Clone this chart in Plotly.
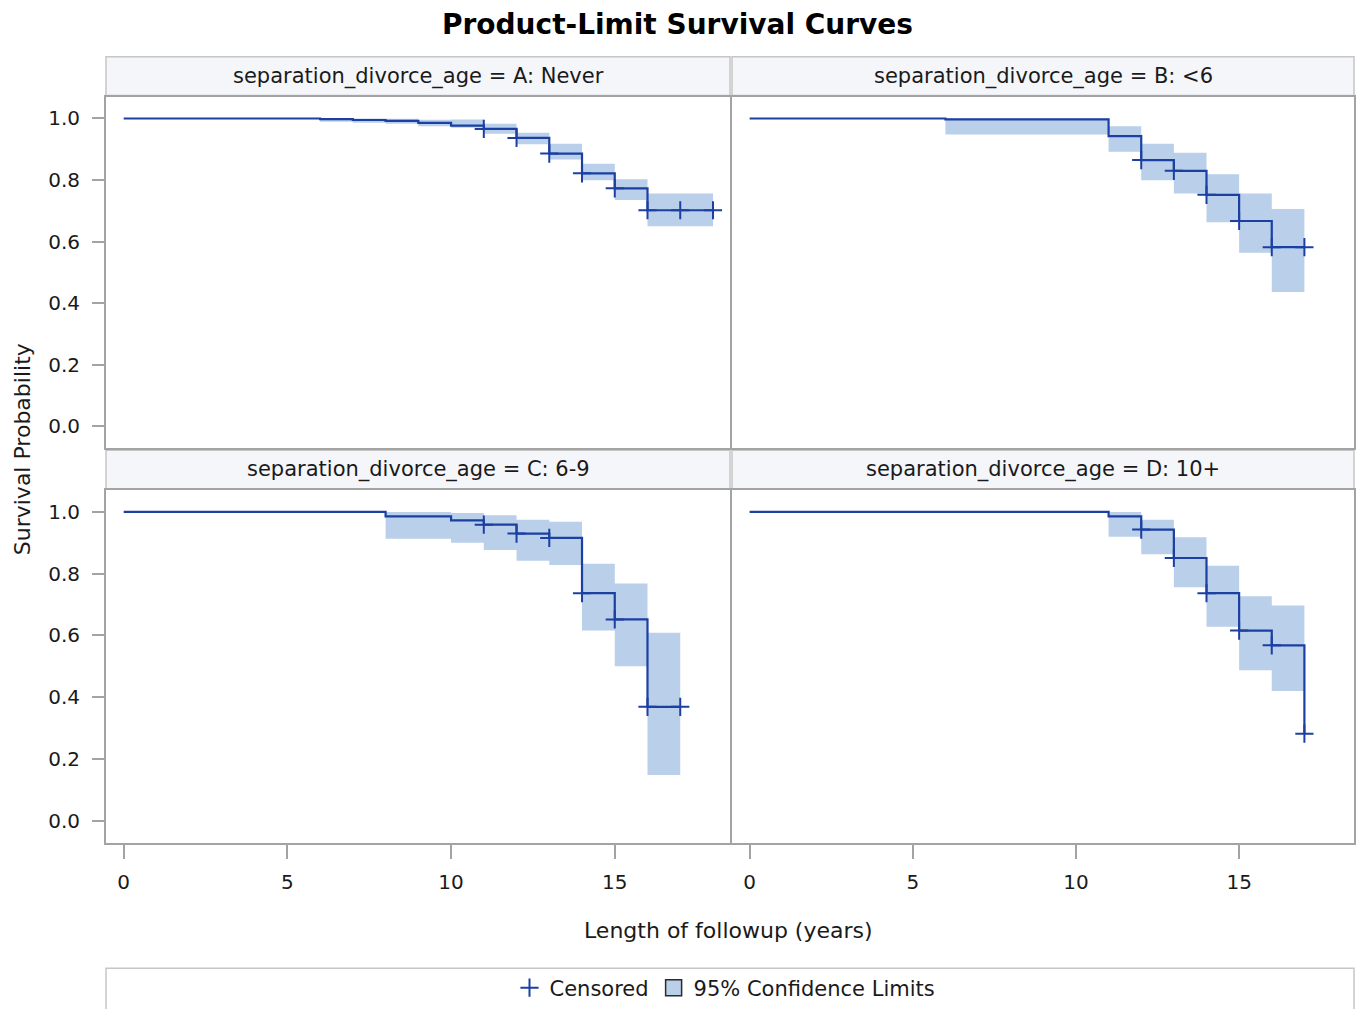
import plotly.graph_objects as go

W, H = 1363, 1009

# ---------------- data ----------------
groups = ["A: Never", "B: <6", "C: 6-9", "D: 10+"]
strip_prefix = "separation_divorce_age = "
x_ticks = [0, 5, 10, 15]
y_ticks = [0.0, 0.2, 0.4, 0.6, 0.8, 1.0]

# Panel A: Never
time_A = [0, 6, 7, 8, 9, 10, 11, 12, 13, 14, 15, 16, 18]
surv_A = [1.0, 0.998, 0.995, 0.992, 0.986, 0.977, 0.966, 0.937, 0.886, 0.822, 0.773, 0.702, 0.702]
ci_time_A = [6, 7, 8, 9, 10, 11, 12, 13, 14, 15, 16, 18]
ci_low_A = [0.989, 0.986, 0.983, 0.975, 0.970, 0.950, 0.916, 0.867, 0.799, 0.735, 0.650, 0.650]
ci_up_A = [1.0, 1.0, 0.999, 0.996, 0.997, 0.983, 0.954, 0.918, 0.853, 0.803, 0.756, 0.756]
cens_time_A = [11, 12, 13, 14, 15, 16, 17, 18]
cens_surv_A = [0.966, 0.937, 0.886, 0.822, 0.773, 0.702, 0.702, 0.702]

# Panel B: <6
time_B = [0, 6, 11, 12, 13, 14, 15, 16, 17]
surv_B = [1.0, 0.997, 0.943, 0.865, 0.830, 0.752, 0.667, 0.582, 0.582]
ci_time_B = [6, 11, 12, 13, 14, 15, 16, 17]
ci_low_B = [0.948, 0.892, 0.799, 0.756, 0.663, 0.564, 0.436, 0.436]
ci_up_B = [1.0, 0.975, 0.918, 0.889, 0.819, 0.756, 0.706, 0.706]
cens_time_B = [12, 13, 14, 15, 16, 17]
cens_surv_B = [0.865, 0.830, 0.752, 0.667, 0.582, 0.582]

# Panel C: 6-9
time_C = [0, 8, 10, 11, 12, 13, 14, 15, 16, 17]
surv_C = [1.0, 0.986, 0.973, 0.959, 0.930, 0.916, 0.737, 0.652, 0.369, 0.369]
ci_time_C = [8, 10, 11, 12, 13, 14, 15, 16, 17]
ci_low_C = [0.913, 0.900, 0.877, 0.842, 0.828, 0.616, 0.500, 0.148, 0.148]
ci_up_C = [1.0, 0.997, 0.989, 0.975, 0.968, 0.832, 0.768, 0.609, 0.609]
cens_time_C = [11, 12, 13, 14, 15, 16, 17]
cens_surv_C = [0.959, 0.930, 0.916, 0.737, 0.652, 0.369, 0.369]

# Panel D: 10+
time_D = [0, 11, 12, 13, 14, 15, 16, 17]
surv_D = [1.0, 0.986, 0.943, 0.851, 0.737, 0.616, 0.568, 0.282]
ci_time_D = [11, 12, 13, 14, 15, 16, 17]
ci_low_D = [0.920, 0.863, 0.756, 0.628, 0.487, 0.420, 0.420]
ci_up_D = [1.0, 0.975, 0.918, 0.826, 0.727, 0.697, 0.697]
cens_time_D = [12, 13, 14, 15, 16, 17]
cens_surv_D = [0.943, 0.851, 0.737, 0.616, 0.568, 0.282]

panels = [
    (time_A, surv_A, ci_time_A, ci_low_A, ci_up_A, cens_time_A, cens_surv_A),
    (time_B, surv_B, ci_time_B, ci_low_B, ci_up_B, cens_time_B, cens_surv_B),
    (time_C, surv_C, ci_time_C, ci_low_C, ci_up_C, cens_time_C, cens_surv_C),
    (time_D, surv_D, ci_time_D, ci_low_D, ci_up_D, cens_time_D, cens_surv_D),
]

# ---------------- style ----------------
FONT = "DejaVu Sans"
LINE_C = "#1B40A2"
BAND_C = "#BACFE9"
BORDER_C = "#A3A3A3"
TEXT_C = "#1A1A1A"

fig = go.Figure()

for i, (t, s, ct, lo, up, cx, cy) in enumerate(panels):
    k = "" if i == 0 else str(i + 1)
    xa, ya = "x" + k, "y" + k
    fig.add_trace(go.Scatter(x=ct, y=up, mode="lines", line=dict(width=0, shape="hv"),
                             xaxis=xa, yaxis=ya, showlegend=False, hoverinfo="skip"))
    fig.add_trace(go.Scatter(x=ct, y=lo, mode="lines", line=dict(width=0, shape="hv"),
                             fill="tonexty", fillcolor=BAND_C,
                             xaxis=xa, yaxis=ya, showlegend=False, hoverinfo="skip"))
    fig.add_trace(go.Scatter(x=t, y=s, mode="lines", line=dict(color=LINE_C, width=2.2, shape="hv"),
                             xaxis=xa, yaxis=ya, showlegend=False))
    fig.add_trace(go.Scatter(x=cx, y=cy, mode="markers",
                             marker=dict(symbol="cross-thin", size=13, line=dict(color=LINE_C, width=2)),
                             xaxis=xa, yaxis=ya, name="Censored", showlegend=(i == 0)))

# legend entry for confidence band
fig.add_trace(go.Scatter(x=[None], y=[None], mode="markers", name="95% Confidence Limits",
                         marker=dict(symbol="square", size=20, color=BAND_C,
                                     line=dict(color="#2B2B2B", width=1.5)),
                         xaxis="x", yaxis="y"))

xL = [106 / W, 730 / W]
xR = [732 / W, 1354 / W]
yT = [1 - 450 / H, 1 - 97 / H]
yB = [1 - 846 / H, 1 - 492 / H]
doms = [(xL, yT), (xR, yT), (xL, yB), (xR, yB)]

xr = [-0.54, 18.52]
yr = [-0.071, 1.071]

layout = dict(
    width=W, height=H,
    margin=dict(l=0, r=0, t=0, b=0),
    paper_bgcolor="white", plot_bgcolor="white",
    font=dict(family=FONT, color=TEXT_C),
    showlegend=True,
    legend=dict(orientation="h", x=725 / W, xanchor="center", y=1 - 992 / H, yanchor="middle",
                font=dict(size=21, family=FONT, color=TEXT_C), bgcolor="rgba(0,0,0,0)",
                traceorder="normal"),
)

for i, (dx, dy) in enumerate(doms):
    k = "" if i == 0 else str(i + 1)
    bottom = i >= 2
    left = i % 2 == 0
    layout["xaxis" + k] = dict(
        domain=dx, anchor="y" + k, range=xr, showgrid=False, zeroline=False,
        showline=True, mirror=True, linecolor=BORDER_C, linewidth=2,
        tickvals=x_ticks if bottom else [], ticks="outside" if bottom else "",
        ticklen=14, tickcolor=BORDER_C, tickwidth=1.5,
        showticklabels=bottom, tickfont=dict(size=20, family=FONT, color=TEXT_C),
        ticklabelstandoff=6,
    )
    layout["yaxis" + k] = dict(
        domain=dy, anchor="x" + k, range=yr, showgrid=False, zeroline=False,
        showline=True, mirror=True, linecolor=BORDER_C, linewidth=2,
        tickvals=y_ticks if left else [], ticktext=["%.1f" % v for v in y_ticks] if left else [],
        ticks="outside" if left else "",
        ticklen=12, tickcolor=BORDER_C, tickwidth=1.5,
        showticklabels=left, tickfont=dict(size=20, family=FONT, color=TEXT_C),
        ticklabelstandoff=8,
    )

fig.update_layout(**layout)

shapes = []
annotations = []
strip_y = [(1 - 96 / H, 1 - 57 / H), (1 - 491 / H, 1 - 452 / H)]
for i, g in enumerate(groups):
    dx = doms[i][0]
    sy = strip_y[i // 2]
    shapes.append(dict(type="rect", xref="paper", yref="paper", x0=dx[0], x1=dx[1], y0=sy[0], y1=sy[1],
                       fillcolor="#F4F6FA", line=dict(color="#C6C6C6", width=1.5), layer="below"))
    annotations.append(dict(text=strip_prefix + g, xref="paper", yref="paper",
                            x=(dx[0] + dx[1]) / 2, y=(sy[0] + sy[1]) / 2,
                            xanchor="center", yanchor="middle", showarrow=False,
                            font=dict(size=21, family=FONT, color=TEXT_C)))

# legend frame
shapes.append(dict(type="rect", xref="paper", yref="paper", x0=106 / W, x1=1354 / W,
                   y0=-0.02, y1=1 - 972 / H, fillcolor="rgba(0,0,0,0)",
                   line=dict(color="#C6C6C6", width=1.5)))

annotations.append(dict(text="<b>Product-Limit Survival Curves</b>", xref="paper", yref="paper",
                        x=677 / W, y=1 - 25 / H, xanchor="center", yanchor="middle", showarrow=False,
                        font=dict(size=28, family=FONT, color="#000000")))
annotations.append(dict(text="Survival Probability", xref="paper", yref="paper",
                        x=22 / W, y=1 - 451 / H, xanchor="center", yanchor="middle", showarrow=False,
                        textangle=-90, font=dict(size=22, family=FONT, color=TEXT_C)))
annotations.append(dict(text="Length of followup (years)", xref="paper", yref="paper",
                        x=728 / W, y=1 - 934 / H, xanchor="center", yanchor="middle", showarrow=False,
                        font=dict(size=22, family=FONT, color=TEXT_C)))

fig.update_layout(shapes=shapes, annotations=annotations)

fig.write_html(
    "out.html",
    config={"displayModeBar": False},
    post_script="document.body.style.margin='0';document.body.style.overflow='hidden';",
)
